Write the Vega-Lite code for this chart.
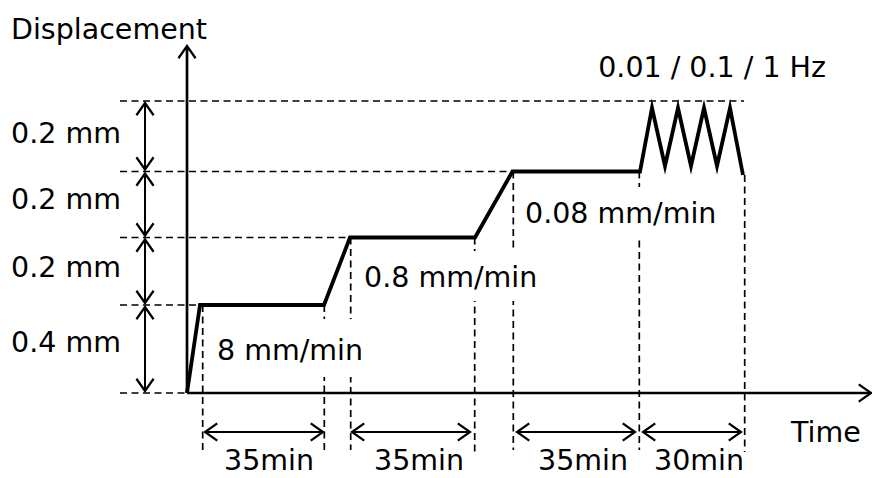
{
  "$schema": "https://vega.github.io/schema/vega-lite/v6.json",
  "width": 872,
  "height": 478,
  "autosize": "none",
  "padding": 0,
  "background": "white",
  "config": {"view": {"stroke": null}},
  "layer": [
    {
      "data": {"values": [
        {"x": 120, "y": 101, "x2": 744, "y2": 101},
        {"x": 120, "y": 171.5, "x2": 512, "y2": 171.5},
        {"x": 120, "y": 237.5, "x2": 350, "y2": 237.5},
        {"x": 120, "y": 305, "x2": 200, "y2": 305},
        {"x": 120, "y": 393, "x2": 187, "y2": 393},
        {"x": 202.7, "y": 305, "x2": 202.7, "y2": 450},
        {"x": 324.3, "y": 305, "x2": 324.3, "y2": 450},
        {"x": 350.7, "y": 237.5, "x2": 350.7, "y2": 450},
        {"x": 474.7, "y": 237.5, "x2": 474.7, "y2": 452},
        {"x": 513.3, "y": 171.5, "x2": 513.3, "y2": 450},
        {"x": 639.3, "y": 171.5, "x2": 639.3, "y2": 450},
        {"x": 744.7, "y": 175, "x2": 744.7, "y2": 452}
      ]},
      "mark": {"type": "rule", "color": "black", "strokeWidth": 1.7, "strokeDash": [7, 4.5]},
      "encoding": {
        "x": {"field": "x", "type": "quantitative", "scale": {"domain": [0, 872], "nice": false, "zero": false}, "axis": null},
        "y": {"field": "y", "type": "quantitative", "scale": {"domain": [0, 478], "reverse": true, "nice": false, "zero": false}, "axis": null},
        "x2": {"field": "x2"},
        "y2": {"field": "y2"}
      }
    },
    {
      "data": {"values": [
        {"x": 212, "y": 319, "x2": 372, "y2": 377},
        {"x": 358, "y": 251, "x2": 545, "y2": 301},
        {"x": 518, "y": 187, "x2": 728, "y2": 237}
      ]},
      "mark": {"type": "rect", "fill": "white", "stroke": null},
      "encoding": {
        "x": {"field": "x", "type": "quantitative", "axis": null},
        "y": {"field": "y", "type": "quantitative", "axis": null},
        "x2": {"field": "x2"},
        "y2": {"field": "y2"}
      }
    },
    {
      "data": {"values": [
        {"x": 187, "y": 393, "x2": 187, "y2": 47},
        {"x": 187, "y": 393, "x2": 870, "y2": 393}
      ]},
      "mark": {"type": "rule", "color": "black", "strokeWidth": 2.7},
      "encoding": {
        "x": {"field": "x", "type": "quantitative", "axis": null},
        "y": {"field": "y", "type": "quantitative", "axis": null},
        "x2": {"field": "x2"},
        "y2": {"field": "y2"}
      }
    },
    {
      "data": {"values": [
        {"x": 145, "y": 103, "x2": 145, "y2": 169.5},
        {"x": 145, "y": 173.5, "x2": 145, "y2": 235.5},
        {"x": 145, "y": 239.5, "x2": 145, "y2": 303},
        {"x": 145, "y": 307, "x2": 145, "y2": 391},
        {"x": 205, "y": 432, "x2": 323, "y2": 432},
        {"x": 352, "y": 432, "x2": 470, "y2": 432},
        {"x": 517, "y": 432, "x2": 635, "y2": 432},
        {"x": 643, "y": 432, "x2": 741, "y2": 432}
      ]},
      "mark": {"type": "rule", "color": "black", "strokeWidth": 2},
      "encoding": {
        "x": {"field": "x", "type": "quantitative", "axis": null},
        "y": {"field": "y", "type": "quantitative", "axis": null},
        "x2": {"field": "x2"},
        "y2": {"field": "y2"}
      }
    },
    {
      "data": {"values": [
        {"x": 187, "y": 46, "a": 0},
        {"x": 871, "y": 393, "a": 90},
        {"x": 145, "y": 103, "a": 0},
        {"x": 145, "y": 169.5, "a": 180},
        {"x": 145, "y": 173.5, "a": 0},
        {"x": 145, "y": 235.5, "a": 180},
        {"x": 145, "y": 239.5, "a": 0},
        {"x": 145, "y": 303, "a": 180},
        {"x": 145, "y": 307, "a": 0},
        {"x": 145, "y": 391, "a": 180},
        {"x": 205, "y": 432, "a": 270},
        {"x": 323, "y": 432, "a": 90},
        {"x": 352, "y": 432, "a": 270},
        {"x": 470, "y": 432, "a": 90},
        {"x": 517, "y": 432, "a": 270},
        {"x": 635, "y": 432, "a": 90},
        {"x": 643, "y": 432, "a": 270},
        {"x": 741, "y": 432, "a": 90}
      ]},
      "mark": {"type": "point", "shape": "M-0.7,1L0,0L0.7,1", "filled": false, "stroke": "black", "strokeWidth": 2.2, "opacity": 1, "size": 600},
      "encoding": {
        "x": {"field": "x", "type": "quantitative", "axis": null},
        "y": {"field": "y", "type": "quantitative", "axis": null},
        "angle": {"field": "a", "type": "quantitative", "scale": null}
      }
    },
    {
      "data": {"values": [
        {"i": 0, "x": 187, "y": 393},
        {"i": 1, "x": 200, "y": 305},
        {"i": 2, "x": 324, "y": 305},
        {"i": 3, "x": 350, "y": 237.5},
        {"i": 4, "x": 475, "y": 237.5},
        {"i": 5, "x": 512.5, "y": 171.5},
        {"i": 6, "x": 640, "y": 171.5},
        {"i": 7, "x": 652, "y": 108},
        {"i": 8, "x": 665, "y": 166},
        {"i": 9, "x": 678, "y": 108},
        {"i": 10, "x": 691, "y": 166},
        {"i": 11, "x": 704, "y": 108},
        {"i": 12, "x": 717, "y": 166},
        {"i": 13, "x": 730, "y": 108},
        {"i": 14, "x": 743, "y": 175}
      ]},
      "mark": {"type": "line", "color": "black", "strokeWidth": 3.8, "strokeJoin": "miter", "strokeMiterLimit": 10},
      "encoding": {
        "x": {"field": "x", "type": "quantitative", "axis": null},
        "y": {"field": "y", "type": "quantitative", "axis": null},
        "order": {"field": "i", "type": "quantitative"}
      }
    },
    {
      "data": {"values": [
        {"t": "Displacement", "x": 11, "y": 39},
        {"t": "0.2 mm", "x": 11, "y": 143},
        {"t": "0.2 mm", "x": 11, "y": 209},
        {"t": "0.2 mm", "x": 11, "y": 277},
        {"t": "0.4 mm", "x": 11, "y": 352},
        {"t": "8 mm/min", "x": 217, "y": 360},
        {"t": "0.8 mm/min", "x": 364, "y": 287},
        {"t": "0.08 mm/min", "x": 525, "y": 223},
        {"t": "Time", "x": 791, "y": 442}
      ]},
      "mark": {"type": "text", "align": "left", "baseline": "alphabetic", "font": "DejaVu Sans", "fontSize": 28.5, "color": "black"},
      "encoding": {
        "x": {"field": "x", "type": "quantitative", "axis": null},
        "y": {"field": "y", "type": "quantitative", "axis": null},
        "text": {"field": "t"}
      }
    },
    {
      "data": {"values": [
        {"t": "35min", "x": 269, "y": 470},
        {"t": "35min", "x": 419, "y": 470},
        {"t": "35min", "x": 583, "y": 470},
        {"t": "30min", "x": 699, "y": 470}
      ]},
      "mark": {"type": "text", "align": "center", "baseline": "alphabetic", "font": "DejaVu Sans", "fontSize": 28.5, "color": "black"},
      "encoding": {
        "x": {"field": "x", "type": "quantitative", "axis": null},
        "y": {"field": "y", "type": "quantitative", "axis": null},
        "text": {"field": "t"}
      }
    },
    {
      "data": {"values": [
        {"t": "0.01 / 0.1 / 1 Hz", "x": 826, "y": 77}
      ]},
      "mark": {"type": "text", "align": "right", "baseline": "alphabetic", "font": "DejaVu Sans", "fontSize": 28.5, "color": "black"},
      "encoding": {
        "x": {"field": "x", "type": "quantitative", "axis": null},
        "y": {"field": "y", "type": "quantitative", "axis": null},
        "text": {"field": "t"}
      }
    }
  ]
}
